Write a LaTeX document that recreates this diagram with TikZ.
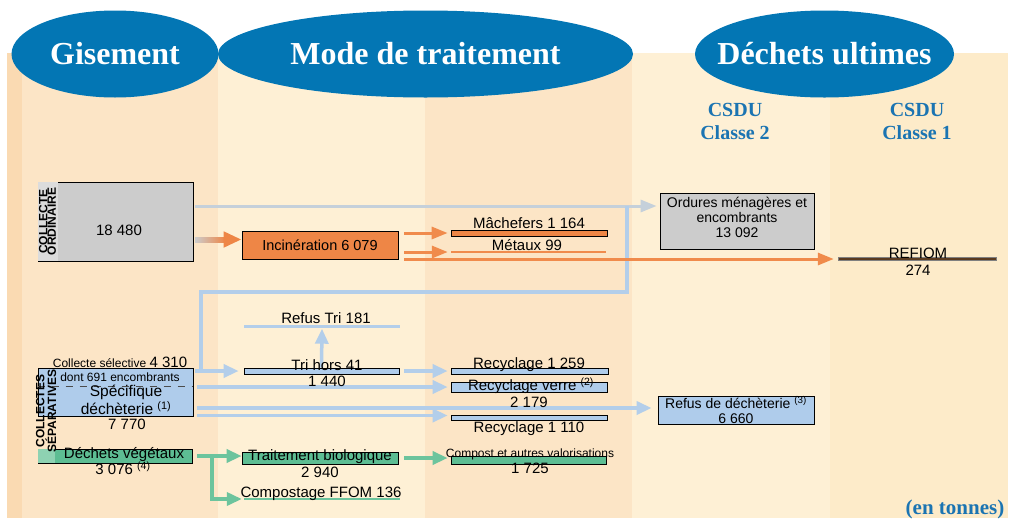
\documentclass[tikz,border=0pt]{standalone}
\usepackage{fontspec}
\setmainfont{Liberation Serif}
\setsansfont{Liberation Sans}
\usetikzlibrary{arrows.meta,calc}
\definecolor{BandDark}{HTML}{FADAB2}
\definecolor{BandPeach}{HTML}{FCE5C6}
\definecolor{BandCream}{HTML}{FEF0D5}
\definecolor{BandYellow}{HTML}{FDEBC9}
\definecolor{HeadBlue}{HTML}{0376B4}
\definecolor{TitleBlue}{HTML}{1B74B2}
\definecolor{BoxGray}{HTML}{CCCCCC}
\definecolor{StripGray}{HTML}{DCDCDC}
\definecolor{Orange}{HTML}{EE8646}
\definecolor{ArrOrange}{HTML}{F08B4C}
\definecolor{LBlue}{HTML}{AFCCEB}
\definecolor{ArrBlue}{HTML}{B3CEEA}
\definecolor{LineGray}{HTML}{C5D0DA}
\definecolor{Green}{HTML}{5DBD93}
\definecolor{ArrGreen}{HTML}{6CC49D}
\definecolor{StripGreen}{HTML}{8ED2B2}
\definecolor{Brown}{HTML}{5A3A1F}

\begin{document}
\begin{tikzpicture}[x=1pt,y=-1pt,
    box/.style={draw=black,line width=0.8pt,inner sep=0pt},
    bar/.style={draw=black,line width=0.7pt,inner sep=0pt,minimum width=156pt},
    flat/.style={inner sep=0pt,minimum width=156pt},
    t15/.style={font=\sffamily\fontsize{15}{15}\selectfont,inner sep=0pt,text height=10.7pt,text depth=0pt},
    t12/.style={font=\sffamily\fontsize{12}{12}\selectfont,inner sep=0pt,text height=8.6pt,text depth=0pt},
    t14/.style={font=\sffamily\fontsize{14}{15}\selectfont,inner sep=0pt,align=center},
    head/.style={font=\fontsize{32}{32}\selectfont\bfseries,text=white,inner sep=0pt,text height=21.5pt,text depth=0pt},
    csdu/.style={font=\fontsize{20}{23}\selectfont\bfseries,text=TitleBlue,align=center,inner sep=0pt},
    side/.style={font=\sffamily\bfseries\fontsize{12}{8.6}\selectfont,align=center,rotate=90,inner sep=0pt},
    barrow/.style={ArrBlue,line width=3.5pt,-{Triangle[length=15pt,width=13pt]}},
    bline/.style={ArrBlue,line width=3.5pt},
    oarrow/.style={ArrOrange,line width=3pt,-{Triangle[length=16pt,width=12pt]}},
    garrow/.style={ArrGreen,line width=3.5pt,-{Triangle[length=15pt,width=13pt]}}
  ]
  \useasboundingbox (0,0) rectangle (1011,520);
  \fill[BandDark] (7,53) rectangle (22,518);
  \fill[BandPeach] (22,53) rectangle (218,518);
  \fill[BandCream] (218,53) rectangle (425,518);
  \fill[BandPeach] (425,53) rectangle (632,518);
  \fill[BandCream] (632,53) rectangle (830,518);
  \fill[BandYellow] (830,53) rectangle (1008,518);

  \fill[HeadBlue] (115,54) ellipse [x radius=103.5pt, y radius=43.5pt];
  \fill[HeadBlue] (425.5,54) ellipse [x radius=207.5pt, y radius=43.5pt];
  \fill[HeadBlue] (824.5,54) ellipse [x radius=129.5pt, y radius=43.5pt];
  \node[head] (gis) at (115,54) {Gisement};
  \node[head] (mode) at (425.5,54) {Mode de traitement};
  \node[head] (ult) at (824.5,54) {Déchets ultimes};
  \node[csdu] (csdu2) at (735,121.5) {CSDU\\Classe 2};
  \node[csdu] (csdu1) at (917,121.5) {CSDU\\Classe 1};
  \node[font=\fontsize{21}{21}\selectfont\bfseries,text=TitleBlue,inner sep=0pt] (unit) at (955,509) {(en tonnes)};

  \node[box,fill=BoxGray,minimum width=155pt,minimum height=79pt] (ord) at (115.5,221.5) {};
  \fill[StripGray] (38.4,182.4) rectangle (58,260.6);
  \node[box,fill=LBlue,minimum width=155pt,minimum height=48pt] (spec) at (115.5,392) {};
  \draw[black!70,line width=0.8pt,dash pattern=on 7pt off 7pt] ($(spec.west)+(0,-6)$) -- ($(spec.east)+(0,-6)$);
  \node[box,fill=Green,minimum width=154pt,minimum height=14pt] (veg) at (115,456) {};
  \fill[StripGreen] (38.4,449.4) rectangle (55,462.6);

  \node[box,fill=Orange,minimum width=156pt,minimum height=28pt,font=\sffamily\fontsize{14.5}{15}\selectfont] (inc) at (320,245) {Incinération 6 079};
  \node[flat,fill=ArrBlue,minimum height=3pt] (refus) at (322,326) {};
  \node[bar,fill=LBlue,minimum width=155pt,minimum height=6pt] (tri) at (321.5,371) {};
  \node[bar,fill=Green,minimum height=12pt] (trait) at (320,458) {};
  \node[flat,fill=ArrGreen,minimum height=2.5pt] (ffom) at (322,499) {};

  \node[bar,fill=Orange,minimum height=6pt] (mach) at (529,233) {};
  \node[flat,fill=ArrOrange,minimum width=155pt,minimum height=2.5pt] (metaux) at (528.5,252) {};
  \node[bar,fill=LBlue,minimum width=157pt,minimum height=6pt] (rec1) at (529.5,371) {};
  \node[bar,fill=LBlue,minimum height=10pt] (verre) at (529,387) {};
  \node[bar,fill=LBlue,minimum height=5pt] (rec2) at (529,417.5) {};
  \node[bar,fill=Green,minimum width=155pt,minimum height=8pt] (compost) at (528.5,460) {};

  \node[box,fill=BoxGray,minimum width=154pt,minimum height=56pt] (ordures) at (737,221) {};
  \node[box,fill=LBlue,minimum width=156pt,minimum height=28pt,t14] (refdech) at (736,410) {Refus de déchèterie \textsuperscript{(3)}\\6 660};
  \node[flat,fill=Brown,draw=gray,line width=0.4pt,minimum width=158pt,minimum height=3pt] (refiom) at (917,259) {};

  \coordinate (ordout) at (195,239.5);
  \coordinate (ordtop) at (195,206);
  \coordinate (selout) at (195,371);
  \coordinate (selfork) at (201,371);
  \coordinate (selturn) at (627,292);
  \coordinate (specv) at (197,387);
  \coordinate (specr) at (197,408);
  \coordinate (specc) at (197,415.5);
  \coordinate (vegfork) at (212,456);

  \shade[left color=BoxGray,right color=Orange] ($(ordout)+(0,-2.5)$) rectangle ($(ordout -| inc.west)+(-16,2.5)$);
  \draw[Orange,line width=5pt,-{Triangle[length=18pt,width=15pt]}] ($(ordout -| inc.west)+(-17,0)$) -- (ordout -| inc.west);
  \draw[LineGray,line width=3pt,-{Triangle[length=16pt,width=12pt]},shorten >=3pt] (ordtop) -- (ordtop -| ordures.west);
  \draw[bline] (selfork) |- (selturn) -- (selturn |- ordtop);
  \draw[barrow,shorten >=5pt] (selout) -- (selout -| tri.west);
  \draw[barrow,shorten >=1pt] (tri.north) -- (refus.south);
  \draw[barrow,shorten <=5pt,shorten >=3pt] (tri.east) -- (tri.east -| rec1.west);
  \draw[barrow,shorten >=3pt] (specv) -- (specv -| verre.west);
  \draw[barrow,shorten >=6pt] (specr) -- (specr -| refdech.west);
  \draw[barrow,shorten >=3pt] (specc) -- (specc -| rec2.west);
  \draw[oarrow,shorten <=6pt,shorten >=3pt] (inc.east |- mach.west) -- (mach.west);
  \draw[oarrow,shorten <=6pt,shorten >=3pt] (inc.east |- metaux.west) -- (metaux.west);
  \draw[oarrow,shorten <=6pt,shorten >=4pt] (inc.east |- refiom.west) -- (refiom.west);
  \draw[garrow,shorten <=5pt] (veg.east) -- (veg.east -| trait.west);
  \draw[garrow,shorten >=2pt] (vegfork) |- (ffom.west);
  \draw[garrow,shorten <=6pt,shorten >=3pt] (trait.east) -- (trait.east -| compost.west);

  \node[side] (ordside) at (47.5,221.5) {COLLECTE\\ORDINAIRE};
  \node[t15] (ordval) at (119,230) {18 480};
  \node[side] (sepside) at (46,411) {COLLECTES\\SÉPARATIVES};
  \node[t12] (sellbl) at (120,363) {Collecte sélective {\fontsize{15}{15}\selectfont 4 310}};
  \node[t12] (enclbl) at (120,377) {dont 691 encombrants};
  \node[font=\sffamily\fontsize{15.5}{15}\selectfont,align=center,inner sep=0pt] (speclbl) at (126,400) {Spécifique\\déchèterie \textsuperscript{(1)}};
  \node[t15] (specval) at (127,424) {7 770};
  \node[t15] (veglbl) at (124,453) {Déchets végétaux};
  \node[t15] (vegval) at (123,469) {3 076 \textsuperscript{(4)}};

  \node[t15] (refuslbl) at (326,318) {Refus Tri 181};
  \node[t15] (trilbl) at (327,365) {Tri hors 41};
  \node[t15] (trival) at (327,381) {1 440};
  \node[t15] (traitlbl) at (320,455) {Traitement biologique};
  \node[t15] (traitval) at (320,472) {2 940};
  \node[t15] (ffomlbl) at (321,492) {Compostage FFOM 136};

  \node[t15] (machlbl) at (529,223) {Mâchefers 1 164};
  \node[t15] (metlbl) at (527,245) {Métaux 99};
  \node[t15] (rec1lbl) at (529,363) {Recyclage 1 259};
  \node[t15] (verrelbl) at (531,385) {Recyclage verre \textsuperscript{(2)}};
  \node[t15] (verreval) at (529,402) {2 179};
  \node[t15] (rec2lbl) at (529,427) {Recyclage 1 110};
  \node[t12] (complbl) at (530,453) {Compost et autres valorisations};
  \node[t15] (compval) at (530,468) {1 725};

  \node[t14] (ordtxt) at (737,217) {Ordures ménagères et\\encombrants\\13 092};
  \node[t15] (refiomlbl) at (918,253) {REFIOM};
  \node[t15] (refiomval) at (918,270) {274};
\end{tikzpicture}
\end{document}
